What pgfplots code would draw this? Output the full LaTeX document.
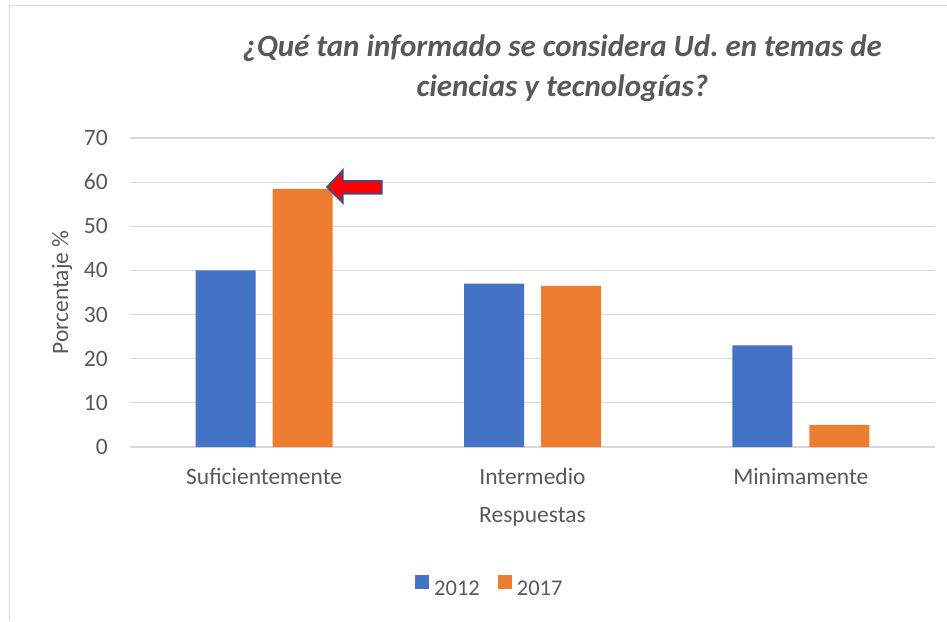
\documentclass[border=0pt]{standalone}
\usepackage{fontspec}
\setmainfont{Carlito}
\usepackage{pgfplots}
\pgfplotsset{compat=1.18}
\definecolor{barblue}{HTML}{4472C4}
\definecolor{barorange}{HTML}{ED7D31}
\definecolor{txtgray}{HTML}{595959}
\definecolor{gridgray}{HTML}{D9D9D9}
\definecolor{arrowblue}{HTML}{2F528F}
\definecolor{framegray}{HTML}{D9D9D9}
\frenchspacing
\begin{document}
\begin{tikzpicture}
\path[use as bounding box] (0pt,0pt) rectangle (947pt,621pt);
\draw[framegray, line width=1.5pt] (9.5pt,0pt) -- (9.5pt,615.5pt) -- (947pt,615.5pt);
\begin{axis}[
  at={(130pt,174pt)}, anchor=south west,
  scale only axis, width=805pt, height=309pt,
  ybar=17pt, bar width=60pt,
  xmin=-0.5, xmax=2.5, ymin=0, ymax=70,
  ytick={0,10,...,70},
  xtick={0,1,2},
  xticklabels={Suficientemente,Intermedio,Minimamente},
  axis line style={draw=none},
  major tick length=0pt,
  ymajorgrids, major grid style={draw=gridgray, line width=1.2pt},
  /pgf/number format/assume math mode=true,
  tick label style={font=\fontsize{23.5}{28}\selectfont, text=txtgray},
  yticklabel style={anchor=east, inner sep=0pt, xshift=-22pt},
  xticklabel style={anchor=north, inner sep=0pt, yshift=-21pt},
  xlabel={Respuestas},
  xlabel style={at={(axis description cs:0.5,0)}, anchor=center, yshift=-70pt, font=\fontsize{23.5}{28}\selectfont, text=txtgray},
  ylabel={Porcentaje \%},
  ylabel style={at={(axis description cs:0,0.5)}, anchor=center, yshift=68pt, font=\fontsize{23.5}{28}\selectfont, text=txtgray},
  title={¿Qué tan informado se considera Ud.\ en temas de\\ciencias y tecnologías?},
  title style={at={(axis description cs:0.537,1)}, anchor=center, yshift=64pt, align=center, font=\fontsize{31}{40}\selectfont\bfseries\itshape, text=txtgray},
  legend style={at={(axis description cs:0.447,-0.453)}, anchor=center, draw=none, fill=none,
    font=\fontsize{22.5}{26}\selectfont, text=txtgray,
    /tikz/every odd column/.append style={column sep=3pt},
    /tikz/every even column/.append style={column sep=16pt}},
  legend columns=-1,
  legend image code/.code={\fill[#1] (0pt,-1pt) rectangle (14pt,13pt);},
  clip=false,
]
\addplot[fill=barblue, draw=none] coordinates {(0,40) (1,37) (2,23)};
\addplot[fill=barorange, draw=none] coordinates {(0,58.5) (1,36.5) (2,5)};
\legend{2012,2017}
\draw[fill=red, draw=arrowblue, line width=1.5pt, line join=miter]
  (axis cs:0.234,58.9) -- ++(16pt,17pt) -- ++(0pt,-11pt) -- ++(39pt,0pt)
  -- ++(0pt,-13pt) -- ++(-39pt,0pt) -- ++(0pt,-9pt) -- cycle;
\end{axis}
\end{tikzpicture}
\end{document}
